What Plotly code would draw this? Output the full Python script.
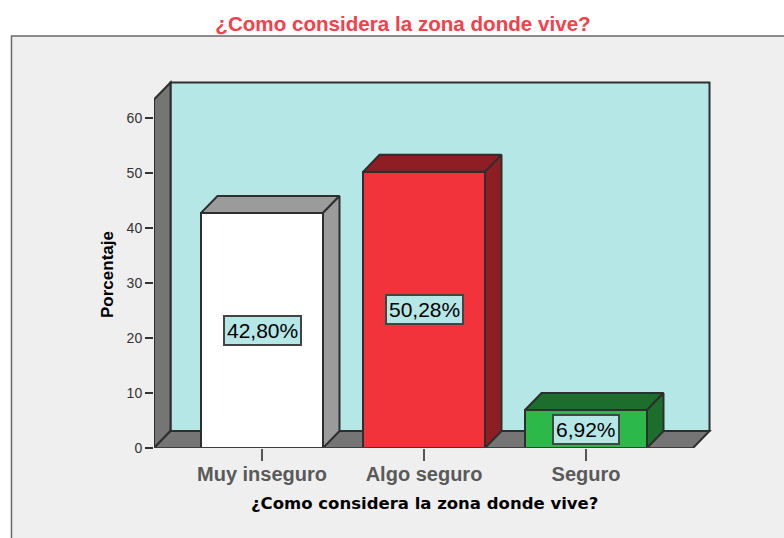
import plotly.graph_objects as go

categories = ["Muy inseguro", "Algo seguro", "Seguro"]
values = [42.80, 50.28, 6.92]
labels = ["42,80%", "50,28%", "6,92%"]
front_colors = ["#FFFFFF", "#F3333B", "#2DB84A"]
top_colors = ["#9B9B9B", "#8E1E23", "#1C6E2C"]
side_colors = ["#9B9B9B", "#8E1E23", "#1C6E2C"]
y_ticks = [0, 10, 20, 30, 40, 50, 60]

TITLE = "¿Como considera la zona donde vive?"
FIG_W, FIG_H = 784, 538
L, R, T, B = 154, 68, 78, 89.5
UX, UY = 162, 5.5            # pixels per category / per percent
DX, DY = 16.5 / UX, 17 / UY  # 3-D depth in axis units
BAR_W = 122 / UX
XMIN, XMAX = -108 / UX, 431 / UX
YTOP = 63.45
EDGE = "#2E2E2E"
LW = 2

x_range = [XMIN, XMIN + (FIG_W - L - R) / UX]
y_range = [0, (FIG_H - T - B) / UY]


def poly_path(points):
    return "M " + " L ".join(f"{x} {y}" for x, y in points) + " Z"


fig = go.Figure()

walls = [
    ([(XMIN + DX, DY), (XMAX + DX, DY), (XMAX + DX, YTOP + DY), (XMIN + DX, YTOP + DY)], "#B5E7E7"),
    ([(XMIN, 0), (XMIN, YTOP), (XMIN + DX, YTOP + DY), (XMIN + DX, DY)], "#757575"),
    ([(XMIN, 0), (XMAX, 0), (XMAX + DX, DY), (XMIN + DX, DY)], "#757575"),
]
shapes = [dict(type="rect", xref="paper", yref="paper",
               x0=11.5 / (FIG_W - L - R) - L / (FIG_W - L - R),
               x1=(FIG_W + 10 - L) / (FIG_W - L - R),
               y0=-(B + 10) / (FIG_H - T - B),
               y1=1 + (T - 36) / (FIG_H - T - B),
               fillcolor="#EFEFEF", line=dict(color="#6A6A6A", width=1.5), layer="below")]
for pts, col in walls:
    shapes.append(dict(type="path", path=poly_path(pts), xref="x", yref="y",
                       fillcolor=col, line=dict(color=EDGE, width=LW), layer="below"))

fig.add_trace(go.Bar(
    x=list(range(len(categories))), y=values, width=BAR_W,
    marker=dict(color=front_colors, line=dict(color=EDGE, width=LW)),
    hoverinfo="skip", showlegend=False,
))

for i, v in enumerate(values):
    x0, x1 = i - BAR_W / 2, i + BAR_W / 2
    top = [(x0, v), (x1, v), (x1 + DX, v + DY), (x0 + DX, v + DY), (x0, v)]
    side = [(x1, 0), (x1, v), (x1 + DX, v + DY), (x1 + DX, DY), (x1, 0)]
    for pts, col in ((top, top_colors[i]), (side, side_colors[i])):
        fig.add_trace(go.Scatter(
            x=[p[0] for p in pts], y=[p[1] for p in pts], mode="lines",
            fill="toself", fillcolor=col, line=dict(color=EDGE, width=LW),
            hoverinfo="skip", showlegend=False, cliponaxis=False,
        ))

# front axis edges, drawn unclipped
fig.add_trace(go.Scatter(x=[XMIN, XMIN], y=[0, YTOP], mode="lines",
                         line=dict(color=EDGE, width=LW), hoverinfo="skip",
                         showlegend=False, cliponaxis=False))
fig.add_trace(go.Scatter(x=[XMIN, XMAX], y=[0, 0], mode="lines",
                         line=dict(color="#3C3C3C", width=LW), hoverinfo="skip",
                         showlegend=False, cliponaxis=False))

annotations = [
    dict(x=i, y=v / 2, xref="x", yref="y", text=labels[i], showarrow=False,
         font=dict(family="Liberation Sans", size=21, color="#000000"),
         bgcolor="#B5E7E7", bordercolor="#444444", borderwidth=2, borderpad=2)
    for i, v in enumerate(values)
]
annotations.append(dict(x=XMIN, y=31.5, xref="x", yref="y", xshift=-46, text="<b>Porcentaje</b>",
                        textangle=-90, showarrow=False,
                        font=dict(family="Liberation Sans", size=17, color="#000000")))
annotations.append(dict(x=1, y=0, xref="x", yref="y", yshift=-55, text=f"<b>{TITLE}</b>",
                        showarrow=False,
                        font=dict(family="DejaVu Sans", size=16.5, color="#000000")))

fig.update_layout(
    width=FIG_W, height=FIG_H,
    margin=dict(l=L, r=R, t=T, b=B, pad=0),
    paper_bgcolor="#FFFFFF", plot_bgcolor="rgba(0,0,0,0)",
    title=dict(text=f"<b>{TITLE}</b>", x=403 / FIG_W, xanchor="center",
               y=1 - 23.5 / FIG_H, yanchor="middle",
               font=dict(family="Liberation Sans", size=20.6, color="#F3404A")),
    shapes=shapes, annotations=annotations, bargap=0, showlegend=False,
    xaxis=dict(range=x_range, tickmode="array", tickvals=list(range(len(categories))),
               ticktext=[f"<b>{c}</b>" for c in categories],
               ticks="outside", ticklen=12, tickwidth=2, tickcolor="#555555",
               tickfont=dict(family="Liberation Sans", size=20, color="#5A5A5A"),
               ticklabelstandoff=-4,
               showgrid=False, zeroline=False, showline=False),
    yaxis=dict(range=y_range, tickmode="array", tickvals=y_ticks, ticks="outside",
               ticklen=8, tickwidth=1.5, tickcolor="#333333",
               tickfont=dict(family="Liberation Sans", size=14, color="#333333"),
               showgrid=False, zeroline=False, showline=False),
)

fig.write_html("out.html", config={"displayModeBar": False},
               post_script="document.body.style.margin='0';document.body.style.overflow='hidden';")
